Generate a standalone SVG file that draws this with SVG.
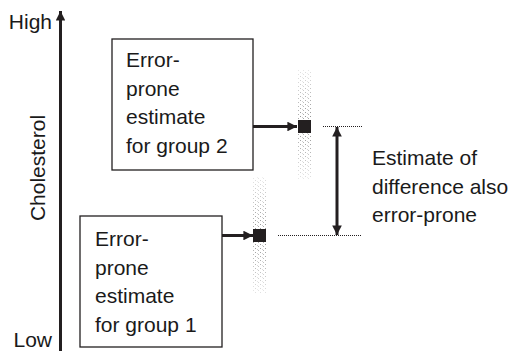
<svg xmlns="http://www.w3.org/2000/svg" width="509" height="351" viewBox="0 0 509 351">
  <style>
    .lbl { font-family: "Liberation Sans", Arial, sans-serif; font-size: 21px; fill: #1a1a1a; }
    .box { fill: #ffffff; stroke: #231f20; stroke-width: 1.3; }
    .link { stroke: #231f20; stroke-width: 3; fill: none; }
    .dots { stroke: #231f20; stroke-width: 1; stroke-dasharray: 1 1; fill: none; }
    .est { fill: #231f20; }
  </style>
  <defs>
    <marker id="head" viewBox="0 0 10 10" refX="10" refY="5" markerWidth="3.2" markerHeight="3.2" orient="auto" markerUnits="strokeWidth">
      <path d="M0,0 L10,5 L0,10 Z" fill="#231f20"/>
    </marker>
    <!-- halftone texture for the uncertainty spread -->
    <pattern id="grain" width="5" height="4" patternUnits="userSpaceOnUse">
      <rect x="0" y="0" width="1" height="1" fill="#8a8a8a"/>
      <rect x="3" y="2" width="1" height="1" fill="#a0a0a0"/>
      <rect x="2" y="1" width="1" height="1" fill="#c4c4c4"/>
    </pattern>
    <linearGradient id="fade" x1="0" y1="0" x2="0" y2="1">
      <stop offset="0" stop-color="#fff" stop-opacity="0.25"/>
      <stop offset="0.5" stop-color="#fff" stop-opacity="1"/>
      <stop offset="1" stop-color="#fff" stop-opacity="0.25"/>
    </linearGradient>
    <mask id="fadeMask" maskContentUnits="objectBoundingBox">
      <rect x="0" y="0" width="1" height="1" fill="url(#fade)"/>
    </mask>
  </defs>

  <!-- vertical axis -->
  <g id="axis">
    <line class="link" x1="60.5" y1="351" x2="60.5" y2="11" marker-end="url(#head)"/>
    <text class="lbl" x="52" y="29" text-anchor="end">High</text>
    <text class="lbl" x="52" y="347" text-anchor="end">Low</text>
    <text class="lbl" transform="translate(45,168) rotate(-90)" text-anchor="middle">Cholesterol</text>
  </g>

  <!-- group 2 estimate -->
  <g id="group2">
    <rect class="box" x="112" y="39" width="141" height="131"/>
    <text class="lbl" x="126" y="67">Error-</text>
    <text class="lbl" x="126" y="95.5">prone</text>
    <text class="lbl" x="126" y="124">estimate</text>
    <text class="lbl" x="126" y="152.5">for group 2</text>
    <rect x="298" y="70" width="14" height="109" fill="url(#grain)" mask="url(#fadeMask)"/>
    <rect class="est" x="298" y="120" width="13" height="13"/>
  </g>

  <!-- group 1 estimate -->
  <g id="group1">
    <rect class="box" x="80" y="216" width="142" height="131"/>
    <text class="lbl" x="95" y="246">Error-</text>
    <text class="lbl" x="95" y="274.5">prone</text>
    <text class="lbl" x="95" y="303">estimate</text>
    <text class="lbl" x="95" y="331.5">for group 1</text>
    <rect x="253" y="177" width="14" height="116" fill="url(#grain)" mask="url(#fadeMask)"/>
    <rect class="est" x="253" y="229" width="13" height="13"/>
  </g>

  <!-- difference note -->
  <g id="difference">
    <text class="lbl" x="372" y="165">Estimate of</text>
    <text class="lbl" x="372" y="194">difference also</text>
    <text class="lbl" x="372" y="222">error-prone</text>
  </g>

  <g id="connectors">
    <line class="link" x1="253" y1="126.5" x2="297" y2="126.5" marker-end="url(#head)"/>
    <line class="link" x1="222" y1="235.5" x2="253" y2="235.5" marker-end="url(#head)"/>
    <line class="dots" x1="323" y1="126.5" x2="362" y2="126.5"/>
    <line class="dots" x1="278" y1="235.5" x2="362" y2="235.5"/>
    <line class="link" x1="337" y1="180" x2="337" y2="127" marker-end="url(#head)"/>
    <line class="link" x1="337" y1="180" x2="337" y2="235" marker-end="url(#head)"/>
  </g>
</svg>
